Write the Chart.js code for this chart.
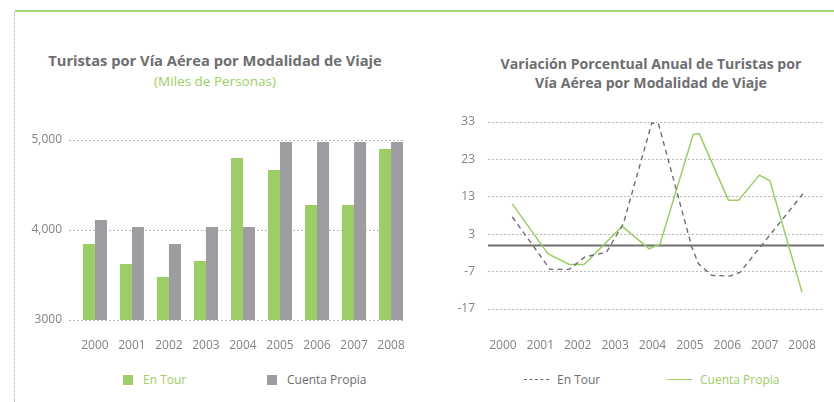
<!DOCTYPE html>
<html>
<head>
<meta charset="utf-8">
<script src="https://cdn.jsdelivr.net/npm/chart.js@4.4.1/dist/chart.umd.min.js"></script>
<style>
  html, body { margin:0; padding:0; background:#fff; }
  body { width:834px; height:402px; position:relative; overflow:hidden; font-family:"Open Sans", sans-serif; }
  .topline { position:absolute; left:15px; top:10px; width:819px; height:2px; background:#a8d677; }
  .leftdots { position:absolute; left:14px; top:12px; width:0; height:390px; border-left:1px dotted #b5b5b5; }
  .title { position:absolute; color:#6d6e71; font-weight:bold; text-align:center; line-height:19px; white-space:nowrap; }
  .sub { position:absolute; color:#9dcd66; font-size:13.5px; text-align:center; white-space:nowrap; }
  .legend { position:absolute; font-size:12px; white-space:nowrap; display:flex; align-items:center; }
  .sw { display:inline-block; width:10px; height:10px; margin-right:10px; }
  .ln { display:inline-block; width:25px; height:0; margin-right:8px; }
  canvas { position:absolute; }
</style>
</head>
<body>
<div class="topline"></div>
<div class="leftdots"></div>

<div class="title" style="left:15px; width:400px; top:51px; font-size:14.7px;">Turistas por Vía Aérea por Modalidad de Viaje</div>
<div class="sub" style="left:15px; width:400px; top:72px;">(Miles de Personas)</div>

<div class="title" style="left:451px; width:400px; top:54px; font-size:14.1px;">Variación Porcentual Anual de Turistas por<br>Vía Aérea por Modalidad de Viaje</div>

<div id="legL1" class="legend" style="left:123px; top:371px;"></div>
<div id="legL2" class="legend" style="left:267px; top:371px;"></div>
<div id="legR1" class="legend" style="left:524px; top:371px;"></div>
<div id="legR2" class="legend" style="left:667px; top:371px;"></div>

<div style="position:absolute; left:0; top:0; width:430px; height:402px;"><canvas id="c1"></canvas></div>
<div style="position:absolute; left:430px; top:0; width:404px; height:402px;"><canvas id="c2"></canvas></div>

<script>
// ---------- Data: left chart (thousands of persons) ----------
const years = [2000, 2001, 2002, 2003, 2004, 2005, 2006, 2007, 2008];
const enTour = [3844, 3622, 3478, 3656, 4800, 4667, 4278, 4278, 4900];
const cuentaPropia = [4111, 4033, 3844, 4033, 4033, 4978, 4978, 4978, 4978];
const leftTickValues = [3000, 4000, 5000];
const leftTickLabels = ['3000', '4,000', '5,000'];

// ---------- Data: right chart (annual % change), vertices ----------
const enTourVarX = [2000.25, 2001.26, 2001.77, 2002.19, 2002.77, 2003.22, 2003.98, 2004.16, 2005.05, 2005.23, 2005.58, 2006.07, 2006.34, 2008.03];
const enTourVarY = [7.6, -6.4, -6.4, -3.1, -1.8, 5.8, 32.7, 32.5, -0.4, -4.9, -8.0, -8.2, -7.2, 13.9];
const propiaVarX = [2000.25, 2001.20, 2001.77, 2002.17, 2003.19, 2003.91, 2004.20, 2005.09, 2005.25, 2006.03, 2006.30, 2006.86, 2007.14, 2008.00];
const propiaVarY = [11.1, -2.2, -5.1, -5.1, 5.1, -0.9, 0.3, 29.7, 29.9, 12.1, 12.1, 18.8, 17.3, -12.5];
const rightTickValues = [-17, -7, 3, 13, 23, 33];

const seriesNames = ['En Tour', 'Cuenta Propia'];
const GREEN = '#9dcd66', GRAY = '#9d9ca1', DARK = '#6d6e71', TICK = '#808285', GRID = '#b8b8b8';

// ---------- Legends ----------
document.getElementById('legL1').innerHTML = '<span class="sw" style="background:'+GREEN+'"></span><span style="color:'+GREEN+'">'+seriesNames[0]+'</span>';
document.getElementById('legL2').innerHTML = '<span class="sw" style="background:'+GRAY+'"></span><span style="color:'+DARK+'">'+seriesNames[1]+'</span>';
document.getElementById('legR1').innerHTML = '<span class="ln" style="border-top:1.5px dashed '+DARK+'"></span><span style="color:'+DARK+'">'+seriesNames[0]+'</span>';
document.getElementById('legR2').innerHTML = '<span class="ln" style="border-top:1.5px solid '+GREEN+'"></span><span style="color:'+GREEN+'">'+seriesNames[1]+'</span>';

Chart.defaults.font.family = '"Open Sans", sans-serif';
Chart.defaults.color = TICK;

const noPad = a => { a.paddingLeft = 0; a.paddingRight = 0; a.paddingTop = 0; a.paddingBottom = 0; };

// ---------- Left: bars ----------
new Chart(document.getElementById('c1'), {
  type: 'bar',
  data: {
    datasets: [
      { label: seriesNames[0], data: years.map((y, i) => ({ x: y, y: enTour[i] })), backgroundColor: GREEN },
      { label: seriesNames[1], data: years.map((y, i) => ({ x: y, y: cuentaPropia[i] })), backgroundColor: GRAY }
    ]
  },
  options: {
    responsive: true, maintainAspectRatio: false, animation: false,
    categoryPercentage: 0.65, barPercentage: 1,
    layout: { autoPadding: false, padding: { left: 0, right: 26, top: 140, bottom: 32 } },
    plugins: { legend: { display: false }, title: { display: false }, tooltip: { enabled: false } },
    scales: {
      x: {
        type: 'linear', offset: false, min: 1999.30, max: 2008.35,
        afterBuildTicks: a => { a.ticks = years.map(v => ({ value: v })); },
        afterFit: a => { a.height = 50; noPad(a); },
        ticks: { callback: v => String(v), padding: 18, font: { size: 12 }, color: TICK, maxRotation: 0, autoSkip: false },
        grid: { display: false, drawTicks: false, offset: false },
        border: { display: false }
      },
      y: {
        min: 3000, max: 5000,
        afterBuildTicks: a => { a.ticks = leftTickValues.map(v => ({ value: v })); },
        afterFit: a => { a.width = 69; noPad(a); },
        ticks: { callback: (v, i) => leftTickLabels[i], padding: 7, font: { size: 12 }, color: TICK },
        grid: { color: GRID, lineWidth: 1, drawTicks: false },
        border: { display: false, dash: [2, 2] }
      }
    }
  }
});

// ---------- Right: lines ----------
const zeroLine = {
  id: 'zeroLine',
  beforeDatasetsDraw(chart) {
    const { ctx, chartArea, scales } = chart;
    const y = scales.y.getPixelForValue(0);
    ctx.save();
    ctx.strokeStyle = '#6d6e71';
    ctx.lineWidth = 2;
    ctx.beginPath();
    ctx.moveTo(chartArea.left, y);
    ctx.lineTo(chartArea.right + 1, y);
    ctx.stroke();
    ctx.restore();
  }
};

new Chart(document.getElementById('c2'), {
  type: 'line',
  data: {
    datasets: [
      { label: seriesNames[0], data: enTourVarX.map((x, i) => ({ x, y: enTourVarY[i] })), borderColor: DARK, borderWidth: 1.4, borderDash: [5, 4], pointRadius: 0, tension: 0, fill: false },
      { label: seriesNames[1], data: propiaVarX.map((x, i) => ({ x, y: propiaVarY[i] })), borderColor: GREEN, borderWidth: 1.5, pointRadius: 0, tension: 0, fill: false }
    ]
  },
  plugins: [zeroLine],
  options: {
    responsive: true, maintainAspectRatio: false, animation: false,
    layout: { autoPadding: false, padding: { left: 0, right: 11, top: 122, bottom: 43 } },
    plugins: { legend: { display: false }, title: { display: false }, tooltip: { enabled: false } },
    scales: {
      x: {
        type: 'linear', min: 1999.60, max: 2008.56,
        afterBuildTicks: a => { a.ticks = years.map(v => ({ value: v })); },
        afterFit: a => { a.height = 50; noPad(a); },
        ticks: { callback: v => String(v), padding: 29, font: { size: 12 }, color: TICK, maxRotation: 0, autoSkip: false },
        grid: { display: false, drawTicks: false },
        border: { display: false }
      },
      y: {
        min: -17, max: 33,
        afterBuildTicks: a => { a.ticks = rightTickValues.map(v => ({ value: v })); },
        afterFit: a => { a.width = 58; noPad(a); },
        ticks: { callback: v => String(v), padding: 13, font: { size: 12 }, color: TICK },
        grid: { color: GRID, lineWidth: 1, drawTicks: false },
        border: { display: false, dash: [2, 2] }
      }
    }
  }
});
</script>
</body>
</html>
